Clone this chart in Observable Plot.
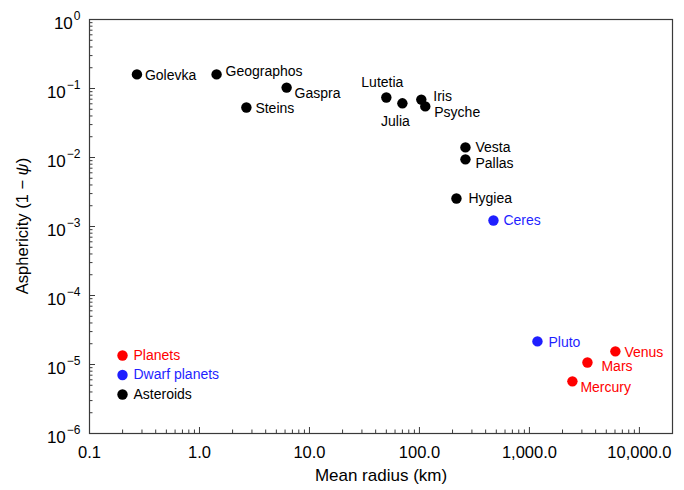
<!DOCTYPE html>
<html><head><meta charset="utf-8">
<script src="https://cdn.jsdelivr.net/npm/d3@7"></script>
<script src="https://cdn.jsdelivr.net/npm/@observablehq/plot@0.6"></script>
<style>
body{margin:0;background:#fff;font-family:"Liberation Sans",Arial,sans-serif}
#chart{position:relative;width:684px;height:490px}
</style>
</head><body><div id="chart"></div>
<script>
// ---- data ----
const names = ["Golevka","Geographos","Gaspra","Steins","Lutetia","Julia","Iris","Psyche","Vesta","Pallas","Hygiea","Ceres","Pluto","Venus","Mars","Mercury"];
const radius = [0.27,1.43,6.2,2.67,50,70,104,113,262,262,217,471,1183,6050,3370,2460];
const asphericity = [0.16,0.16,0.103,0.053,0.074,0.061,0.069,0.055,0.014,0.0094,0.00255,0.00122,2.16e-5,1.55e-5,1.07e-5,5.7e-6];
const group = ["Asteroids","Asteroids","Asteroids","Asteroids","Asteroids","Asteroids","Asteroids","Asteroids","Asteroids","Asteroids","Asteroids","Dwarf planets","Dwarf planets","Planets","Planets","Planets"];
const groupNames = ["Planets","Dwarf planets","Asteroids"];
const groupColors = ["#ff0000","#1f1fff","#000000"];
const xTicks = [0.1,1,10,100,1000,10000];
const xTickLabels = ["0.1","1.0","10.0","100.0","1,000.0","10,000.0"];
const yTicks = [1,1e-1,1e-2,1e-3,1e-4,1e-5,1e-6];
const yExponents = ["0","−1","−2","−3","−4","−5","−6"];
const xTitle = "Mean radius (km)";

// ---- layout / style ----
const W = 684, H = 490;
const mL = 89, mR = 12, mT = 19, mB = 57;
const fw = W - mL - mR, fh = H - mT - mB;
const xDomain = [0.1, 20000], yDomain = [1e-6, 1];
const colorOf = g => groupColors[groupNames.indexOf(g)];
const axisColor = "#3a3a3a";

// label placement (style only)
const labelPos = {
  Golevka:[8,1,"start"], Geographos:[9,-3,"start"], Gaspra:[8,6,"start"], Steins:[9,1,"start"],
  Lutetia:[-4,-15,"middle"], Julia:[-7,18,"middle"], Iris:[12,-3,"start"], Psyche:[9,6,"start"],
  Vesta:[10,0,"start"], Pallas:[10,4,"start"], Hygiea:[12,0,"start"], Ceres:[10,0,"start"],
  Pluto:[11,1,"start"], Venus:[9,1,"start"], Mars:[14,4,"start"], Mercury:[8,6,"start"]
};

const points = names.map((n,i) => ({name:n, r:radius[i], a:asphericity[i], g:group[i]}));

// minor ticks (generated per decade)
const minorX = [], minorY = [];
for (let e = -1; e <= 4; e++) for (let k = 2; k <= 9; k++) { const v = k*Math.pow(10,e); if (v < xDomain[1]) minorX.push(v); }
for (let e = -6; e <= -1; e++) for (let k = 2; k <= 9; k++) minorY.push(k*Math.pow(10,e));

const marks = [
  Plot.frame({stroke:axisColor, strokeWidth:1.2}),
  Plot.tickX(xTicks, {x:d=>d, insetTop: fh-6, stroke:axisColor}),
  Plot.tickX(minorX, {x:d=>d, insetTop: fh-3.5, stroke:axisColor}),
  Plot.tickY(yTicks, {y:d=>d, insetRight: fw-6, stroke:axisColor}),
  Plot.tickY(minorY, {y:d=>d, insetRight: fw-3.5, stroke:axisColor}),
  Plot.axisX({ticks: xTicks, tickSize:0, tickPadding:13, fontSize:16.5,
    tickFormat: d => xTickLabels[xTicks.indexOf(d)], label:null}),
  Plot.axisY({ticks: yTicks, tickSize:0, tickPadding:9, fontSize:17,
    tickFormat: d => "10|" + yExponents[yTicks.indexOf(d)], label:null}),
  Plot.text([xTitle], {frameAnchor:"bottom", dy:47, text:d=>d, fontSize:17, fill:"#000"}),
  Plot.dot(points, {x:"r", y:"a", r:5.2, fill:d=>colorOf(d.g), stroke:"none"}),
  ...points.map(p => Plot.text([p], {x:"r", y:"a", text:"name", dx:labelPos[p.name][0], dy:labelPos[p.name][1],
      textAnchor:labelPos[p.name][2], fontSize:14, fill:colorOf(p.g)})),
  ...groupNames.map((g,i) => Plot.dot([g], {frameAnchor:"bottom-left", dx:33, dy:-78 + i*19.5, r:5.2, fill:groupColors[i], stroke:"none"})),
  ...groupNames.map((g,i) => Plot.text([g], {frameAnchor:"bottom-left", dx:44, dy:-74 + i*19.5, text:d=>d, textAnchor:"start", fontSize:14, fill:groupColors[i]}))
];

const svg = Plot.plot({
  width: W, height: H,
  marginLeft: mL, marginRight: mR, marginTop: mT, marginBottom: mB,
  style: {fontFamily:'"Liberation Sans", Arial, sans-serif', background:"#fff", color:"#000", overflow:"visible"},
  x: {type:"log", domain:xDomain},
  y: {type:"log", domain:yDomain},
  marks
});
document.getElementById("chart").appendChild(svg);

// superscript y tick labels
d3.select(svg).selectAll('g[aria-label="y-axis tick label"] text').each(function() {
  const t = d3.select(this);
  const parts = t.text().split("|");
  t.text(null).attr("fill","#000");
  t.append("tspan").text(parts[0]);
  t.append("tspan").attr("font-size",12).attr("dy","-0.75em").attr("dx","1").text(parts[1]);
  t.attr("transform", (t.attr("transform")||"") + " translate(0,4)");
});

// y axis title with italic psi
const yt = d3.select(svg).append("text")
  .attr("transform", `translate(28,${mT + fh/2}) rotate(-90)`)
  .attr("text-anchor","middle").attr("font-size",16.5).attr("fill","#000")
  .attr("font-family",'"Liberation Sans", Arial, sans-serif');
yt.append("tspan").text("Asphericity (1 − ");
yt.append("tspan").attr("font-style","italic").text("ψ");
yt.append("tspan").text(")");
</script>
</body></html>
